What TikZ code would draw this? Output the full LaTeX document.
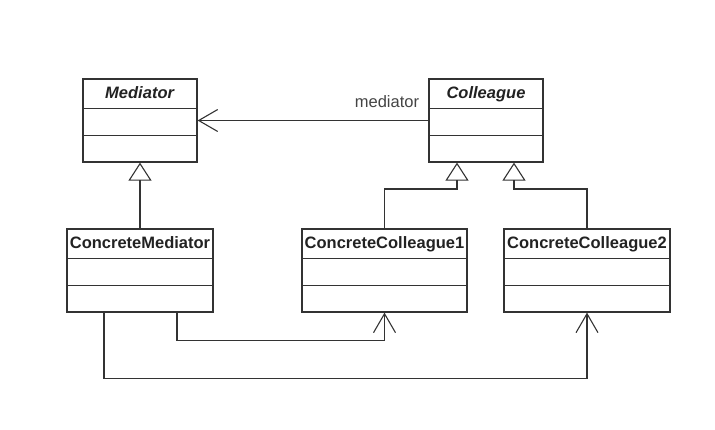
\documentclass[tikz,border=0pt]{standalone}
\usepackage{fontspec}
\setmainfont{Liberation Sans}
\usetikzlibrary{arrows.meta,calc}
\definecolor{ln}{HTML}{333333}
\definecolor{tx}{HTML}{222222}
\definecolor{lb}{HTML}{444444}
\tikzset{
  cls/.style={draw=ln, line width=1.2pt, rectangle, inner sep=0pt, fill=white},
  ttl/.style={text=tx, font=\bfseries\fontsize{16.5}{19}\selectfont, inner sep=0pt, anchor=base},
  divline/.style={draw=ln, line width=1.2pt},
  assoc/.style={draw=ln, line width=1.2pt, -{Straight Barb[length=19pt,width=22pt,line width=1.1pt]}},
  inh/.style={draw=ln, line width=1.2pt, -{Triangle[open,length=18pt,width=23pt,line width=1.1pt]}},
  lbl/.style={text=lb, font=\fontsize{16.5}{19}\selectfont, inner sep=0pt}
}
\begin{document}
\begin{tikzpicture}[x=1pt,y=1pt]
\useasboundingbox (0,0) rectangle (715,-429);
% classes
\node[cls, minimum width=114, minimum height=83] (med) at (140,-120.5) {};
\node[cls, minimum width=114, minimum height=83] (col) at (486,-120.5) {};
\node[cls, minimum width=146, minimum height=83] (cm) at (140,-270.5) {};
\node[cls, minimum width=165, minimum height=83] (cc1) at (384.5,-270.5) {};
\node[cls, minimum width=166, minimum height=83] (cc2) at (587,-270.5) {};
% titles
\node[ttl] (medt) at ($(med.north)+(0,-20.5)$) {\textit{Mediator}};
\node[ttl] (colt) at ($(col.north)+(0,-20.5)$) {\textit{Colleague}};
\node[ttl] (cmt) at ($(cm.north)+(0,-20.5)$) {ConcreteMediator};
\node[ttl] (cc1t) at ($(cc1.north)+(0,-20.5)$) {ConcreteColleague1};
\node[ttl] (cc2t) at ($(cc2.north)+(0,-20.5)$) {ConcreteColleague2};
% dividers
\foreach \n in {med,col,cm,cc1,cc2}{
  \draw[divline] ($(\n.north west)+(0,-30)$) -- ($(\n.north east)+(0,-30)$);
  \draw[divline] ($(\n.north west)+(0,-57)$) -- ($(\n.north east)+(0,-57)$);
}
% association Colleague -> Mediator
\draw[assoc] (col.west) -- (med.east);
\node[lbl] (mlbl) at (387,-102) {mediator};
% inheritance
\draw[inh] (cm.north) -- (med.south);
\coordinate (j1) at (457,-189);
\coordinate (j2) at (514,-189);
\draw[inh] (cc1.north) |- (j1) -- (j1 |- col.south);
\draw[inh] (cc2.north) |- (j2) -- (j2 |- col.south);
% ConcreteMediator -> ConcreteColleagues
\draw[assoc] ([xshift=37]cm.south) -- ++(0,-28) -| (cc1.south);
\draw[assoc] ([xshift=-36]cm.south) -- ++(0,-66) -| (cc2.south);
\end{tikzpicture}
\end{document}
